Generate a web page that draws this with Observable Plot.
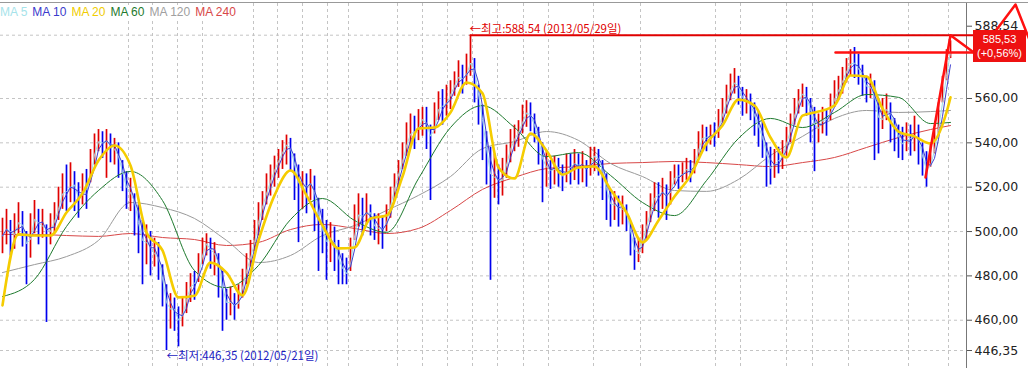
<!DOCTYPE html>
<html><head><meta charset="utf-8">
<script src="https://cdn.jsdelivr.net/npm/d3@7"></script>
<script src="https://cdn.jsdelivr.net/npm/@observablehq/plot@0.6"></script>
<style>
body{margin:0;background:#fff;}
#wrap{position:relative;width:1028px;height:368px;overflow:hidden;background:#fff;}
#legend{position:absolute;left:0;top:5px;background:#fff;font:12px "Liberation Sans",sans-serif;line-height:15px;padding-right:4px;white-space:nowrap;}
#legend span{margin-right:5px;}
#box{position:absolute;left:973px;top:30px;width:53px;height:32px;background:#ee1111;color:#fff;font:11px "Liberation Sans",sans-serif;text-align:center;line-height:14px;padding-top:2px;box-sizing:border-box;white-space:nowrap;}
</style></head>
<body><div id="wrap"></div>
<script>
// ---- data (one candle slot ≈ a few trading days) ----
const close = [498,504,496,501,507,499,490,503,508,500,505,497,503,506,514,520,516,524,518,512,
521,517,530,539,542,538,543,536,538,530,524,516,519,508,500,492,498,488,492,484,
474,462,468,462,458,466,472,478,475,485,493,496,488,492,480,470,466,470,464,471,
478,486,490,500,508,514,520,525,530,533,538,540,535,526,518,522,519,524,512,504,
498,493,499,491,485,482,480,490,505,510,504,512,505,500,503,499,508,515,523,528,
535,542,546,544,549,552,546,540,552,558,555,560,563,568,571,567,574,578,568,556,
545,530,522,527,520,526,534,540,543,546,552,555,550,546,538,528,530,525,531,527,
523,530,528,533,527,531,526,533,535,531,524,515,510,514,508,512,505,496,488,492,
499,505,512,518,515,520,513,522,526,524,527,529,526,533,540,544,541,545,543,550,
555,561,566,568,563,558,560,555,550,545,540,530,527,533,531,536,543,548,556,561,
563,558,552,545,548,552,549,557,562,565,570,574,577,575,572,568,563,567,555,548,
553,557,550,545,541,538,544,540,546,538,530,526,533,540,552,564,576,585.53];
const high = [506,510,505,508,513,509,500,508,514,510,510,503,508,513,520,526,530,531,527,522,
526,528,537,544,546,545,546,544,542,540,532,527,524,517,512,505,503,500,497,495,
485,476,472,470,466,470,477,481,482,490,497,499,497,495,490,482,474,475,472,476,
483,490,496,505,513,518,526,530,534,537,541,543.5,542,535,530,527,526,528,525,515,
510,505,504,502,496,490,488,497,512,517,515,517,512,508,508,507,512,520,526,532,
540,549,553,552,555,556,556,548,558,563,564,566,568,572,577,575,580,588.54,578,566,
557,545,538,535,530,533,539,546,548,550,557,559,558,553,547,540,536,532,534,533,
530,535,535,537,535,536,532,538,538,537,532,526,518,518,516,516,512,504,497,497,
503,509,517,522,522,524,521,527,530,530,531,533,532,537,545,548,547,548,549,555,
560,566,571,573.5,570,565,564,562,558,554,550,540,538,537,538,541,547,553,560,564,
566.5,565,560,556,553,556,555,562,568,570,574,578,582,583,580,575,570,571,568,560,
560,562,558,551,548,547,549,548,552,548,540,536,540,546,558,570,582,586];
const low = [490,494,489,492,498,493,476,488,499,494,497,459,494,499,505,510,509,513,509,506,
512,510,522,530,536,533,524,531,530,524,518,510,509,498,490,476,485,480,484,478,
466,446.35,456,455,448,457,463,468,469,477,485,489,483,480,470,455,460,462,460,465,
470,476,484,491,498,505,512,516,520,524,528,530,527,514,495,510,508,514,500,482,
490,478,486,482,476,476,476,482,496,502,498,503,498,496,494,492,500,506,514,520,
528,534,538,537,541,543,537,514,544,550,548,552,555,561,565,562,566,570,558,548,
532,521,478,515,512,516,524,531,536,538,544,547,545,540,530,513,520,519,521,520,
518,522,521,523,521,522,520,525,527,525,514,505,502,505,502,503,500,489,482.5,486,
490,496,504,509,506,510,505,512,521,519,522,523,522,526,533,537,536,539,538,542,
549,553,559,562,557,552,553,550,543,538,533,520,521,524,526,528,534,540,548,553,
556,552,540,527,540,544,543,550,556,559,562,567,570,569,566,561,558,560,532,535,
546,550,540,536,533,532,536,534,536,530,525,520,529,535,544,558,568,578];

const ma20Slots = d3.range(0, 237, 4).concat([237]);
const ma20 = [466.7,498.7,498.2,498.2,508.6,517.2,532.0,538.8,529.8,499.6,491.5,470.3,471.0,486.0,481.5,471.2,496.0,516.3,527.5,516.3,
502.7,492.4,492.8,505.9,507.2,524.8,546.5,546.9,553.7,567.2,562.3,528.9,523.9,544.2,536.5,525.7,528.9,529.3,519.0,508.6,
495.1,505.0,515.8,525.2,539.7,547.8,559.5,556.8,542.4,533.4,552.3,554.1,556.8,570.4,569.9,555.5,545.1,542.9,539.7,553.7,560.5];
const maSlots = d3.range(0, 233, 8).concat([237]);
const ma60 = [470.7,478.4,502.3,518.5,527.1,514.0,482.4,474.7,484.7,505.4,514.9,505.0,499.6,523.9,546.9,556.8,546.9,533.8,535.6,525.3,
513.1,507.2,523.0,542.0,551.0,546.9,553.7,561.8,560.5,548.7,549.2];
const ma120 = [481.5,485.1,488.7,496.0,513.1,510.8,505.9,496.0,486.0,489.2,498.2,502.7,509.5,516.3,524.8,537.4,540.6,545.1,541.1,530.7,
524.8,518.5,518.1,523.5,534.3,542.9,551.0,554.6,553.7,554.1,554.6];
const ma240 = [498.7,498.7,498.2,497.8,499.1,497.3,496.4,493.7,495.1,500.9,503.2,501.4,499.1,501.4,509.5,519.0,524.4,528.4,529.3,530.7,
531.1,531.6,531.1,530.2,529.3,531.1,533.4,537.9,542.4,546.0,547.8];

const yTicks = [446.35, 460, 480, 500, 520, 540, 560];
const topTick = [588.54];
const monthGrid = [31.5,37.5,43.75,50,62.75,68.75,75,81.25,86.5,98.75,105,111.25,117.5,123.75,130.25,136.5,147.75,159.5,178.25,184.5,196,202.5,211.5,226.5,236.5];

const legendNames = ["MA 5","MA 10","MA 20","MA 60","MA 120","MA 240"];
const legendColors = ["#a6e3ea","#3a3acc","#f0cc00","#1e7a2e","#a0a0a0","#d84848"];

const hiInfo = {slot:117, value:588.54, label:"←최고:588.54 (2013/05/29일)"};
const loInfo = {slot:41, value:446.35, label:"←최저:446,35 (2012/05/21일)"};
const last = {price:"585,53", change:"(+0,56%)"};

// user-drawn annotation lines (slot, value)
const drawings = [
  [{i:117, v:588.54},{i:242.75, v:588.54}],
  [{i:208.25, v:580.7},{i:242.75, v:580.7}],
  [{i:230.75, v:524.4},{i:237, v:588.54},{i:242.75, v:580.9}],
  [{i:245.75, v:584.4},{i:253.25, v:602.4},{i:258, v:580.7}]
];

// ---- build ----
const candles = close.map((c, i) => ({i, close:c, high:high[i], low:low[i], up: i === 0 ? true : c >= close[i-1]}));
const line = (slots, vals) => vals.map((v, k) => ({i: slots[k], v}));
const fmt = d => d.toFixed(2).replace(".", ",");

const chart = Plot.plot({
  width: 1028, height: 368,
  marginLeft: 0, marginRight: 62, marginTop: 3, marginBottom: 0,
  x: {domain: [0, 237], range: [2, 950], axis: null},
  y: {domain: [446.35, 588.54], range: [350, 34.7]},
  style: {fontFamily: "DejaVu Sans", fontSize: "12px", background: "white", overflow: "visible"},
  marks: [
    Plot.ruleY(yTicks.concat(topTick), {stroke: "#c4c4c4", strokeDasharray: "3,3"}),
    Plot.ruleX(monthGrid, {stroke: "#c4c4c4", strokeDasharray: "3,3"}),
    Plot.line(line(maSlots, ma240), {x: "i", y: "v", stroke: "#d84848", strokeWidth: 1, curve: "monotone-x"}),
    Plot.line(line(maSlots, ma120), {x: "i", y: "v", stroke: "#9a9a9a", strokeWidth: 1, curve: "monotone-x"}),
    Plot.ruleX(candles, {x: "i", y1: "low", y2: "high", stroke: d => d.up ? "#e00000" : "#0000ee", strokeWidth: 1.7}),
    Plot.line(line(maSlots, ma60), {x: "i", y: "v", stroke: "#1e7a2e", strokeWidth: 1, curve: "monotone-x"}),
    Plot.lineY(candles, Plot.windowY({k: 2, anchor: "end"}, {x: "i", y: "close", stroke: "#9fe0e8", strokeWidth: 1})),
    Plot.lineY(candles, Plot.windowY({k: 3, anchor: "end"}, {x: "i", y: "close", stroke: "#4040d0", strokeWidth: 1})),
    Plot.line(line(ma20Slots, ma20), {x: "i", y: "v", stroke: "#f5cc00", strokeWidth: 2.6, curve: "monotone-x"}),
    Plot.frame({anchor: "right", stroke: "#777"}),
    Plot.axisY(yTicks, {anchor: "right", tickSize: 5, tickPadding: 3, stroke: "#555", fill: "#222", fontSize: 12.5, tickFormat: fmt}),
    Plot.axisY(topTick, {anchor: "right", tickSize: 5, tickPadding: 3, stroke: "#555", fill: "#222", fontSize: 12.5, tickFormat: fmt, dy: -9}),
    ...drawings.map((seg, k) => Plot.line(seg, {x: "i", y: "v", stroke: k === 0 ? "#e00000" : "#ff1010", strokeWidth: k === 0 ? 2 : 2.5})),
    Plot.text([hiInfo], {x: "slot", y: "value", text: "label", textAnchor: "start", lineAnchor: "bottom", dy: -2, dx: -1,
      fill: "#e00000", fontFamily: "Noto Sans CJK KR", fontSize: 11.5}),
    Plot.text([loInfo], {x: "slot", y: "value", text: "label", textAnchor: "start", lineAnchor: "top", dy: 1, dx: 0,
      fill: "#1a1ac0", fontFamily: "Noto Sans CJK KR", fontSize: 11.5})
  ]
});

const wrap = document.getElementById("wrap");
wrap.appendChild(chart);
d3.select(chart).append("line").attr("x1", 0).attr("x2", 1028).attr("y1", 2.5).attr("y2", 2.5).attr("stroke", "#999");

const legend = document.createElement("div");
legend.id = "legend";
legendNames.forEach((n, k) => {
  const s = document.createElement("span");
  s.textContent = n; s.style.color = legendColors[k];
  legend.appendChild(s);
});
wrap.appendChild(legend);

const box = document.createElement("div");
box.id = "box";
box.innerHTML = last.price + "<br>" + last.change;
wrap.appendChild(box);
</script>
</body></html>
